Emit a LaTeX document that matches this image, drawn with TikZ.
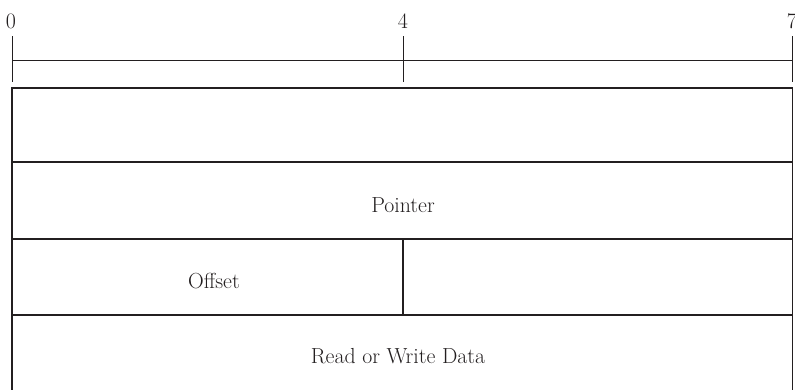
\documentclass[tikz,border=0pt]{standalone}
\definecolor{ink}{HTML}{231F20}
\tikzset{
  boxline/.style={draw=ink, line width=1.8pt},
  ruleline/.style={draw=ink, line width=0.9pt},
  lbl/.style={text=ink, font=\fontsize{21.8}{24}\selectfont, inner sep=0pt},
  ticklbl/.style={text=ink, font=\fontsize{22}{24}\selectfont, inner sep=0pt, anchor=base}
}
\begin{document}
\begin{tikzpicture}[x=1pt, y=-1pt]
\clip (0,0) rectangle (795,389);
\fill[white] (0,0) rectangle (795,389);
% ruler
\coordinate (t0a) at (12,36); \coordinate (t0b) at (12,82);
\coordinate (t4a) at (403,36); \coordinate (t4b) at (403,82);
\coordinate (t7a) at (792.5,36); \coordinate (t7b) at (792.5,82);
\coordinate (rl) at (12,60); \coordinate (rr) at (792.5,60);
\draw[ruleline] (t0a) -- (t0b);
\draw[ruleline] (t4a) -- (t4b);
\draw[ruleline] (t7a) -- (t7b);
\draw[ruleline] (rl) -- (rr);
\node[ticklbl] (l0) at (11,28) {0};
\node[ticklbl] (l4) at (403,28) {4};
\node[ticklbl] (l7) at (792,28) {7};
% register rows
\draw[boxline] (12,88) rectangle (792.5,162);
\draw[boxline] (12,162) rectangle (792.5,239);
\draw[boxline] (12,239) rectangle (403,315);
\draw[boxline] (403,239) rectangle (792.5,315);
\draw[boxline] (12,315) rectangle (792.5,400);
\node[lbl] (pointer) at (403,205) {Pointer};
\node[lbl] (offset) at (214,281) {Offset};
\node[lbl] (data) at (398,356) {Read or Write Data};
\end{tikzpicture}
\end{document}
